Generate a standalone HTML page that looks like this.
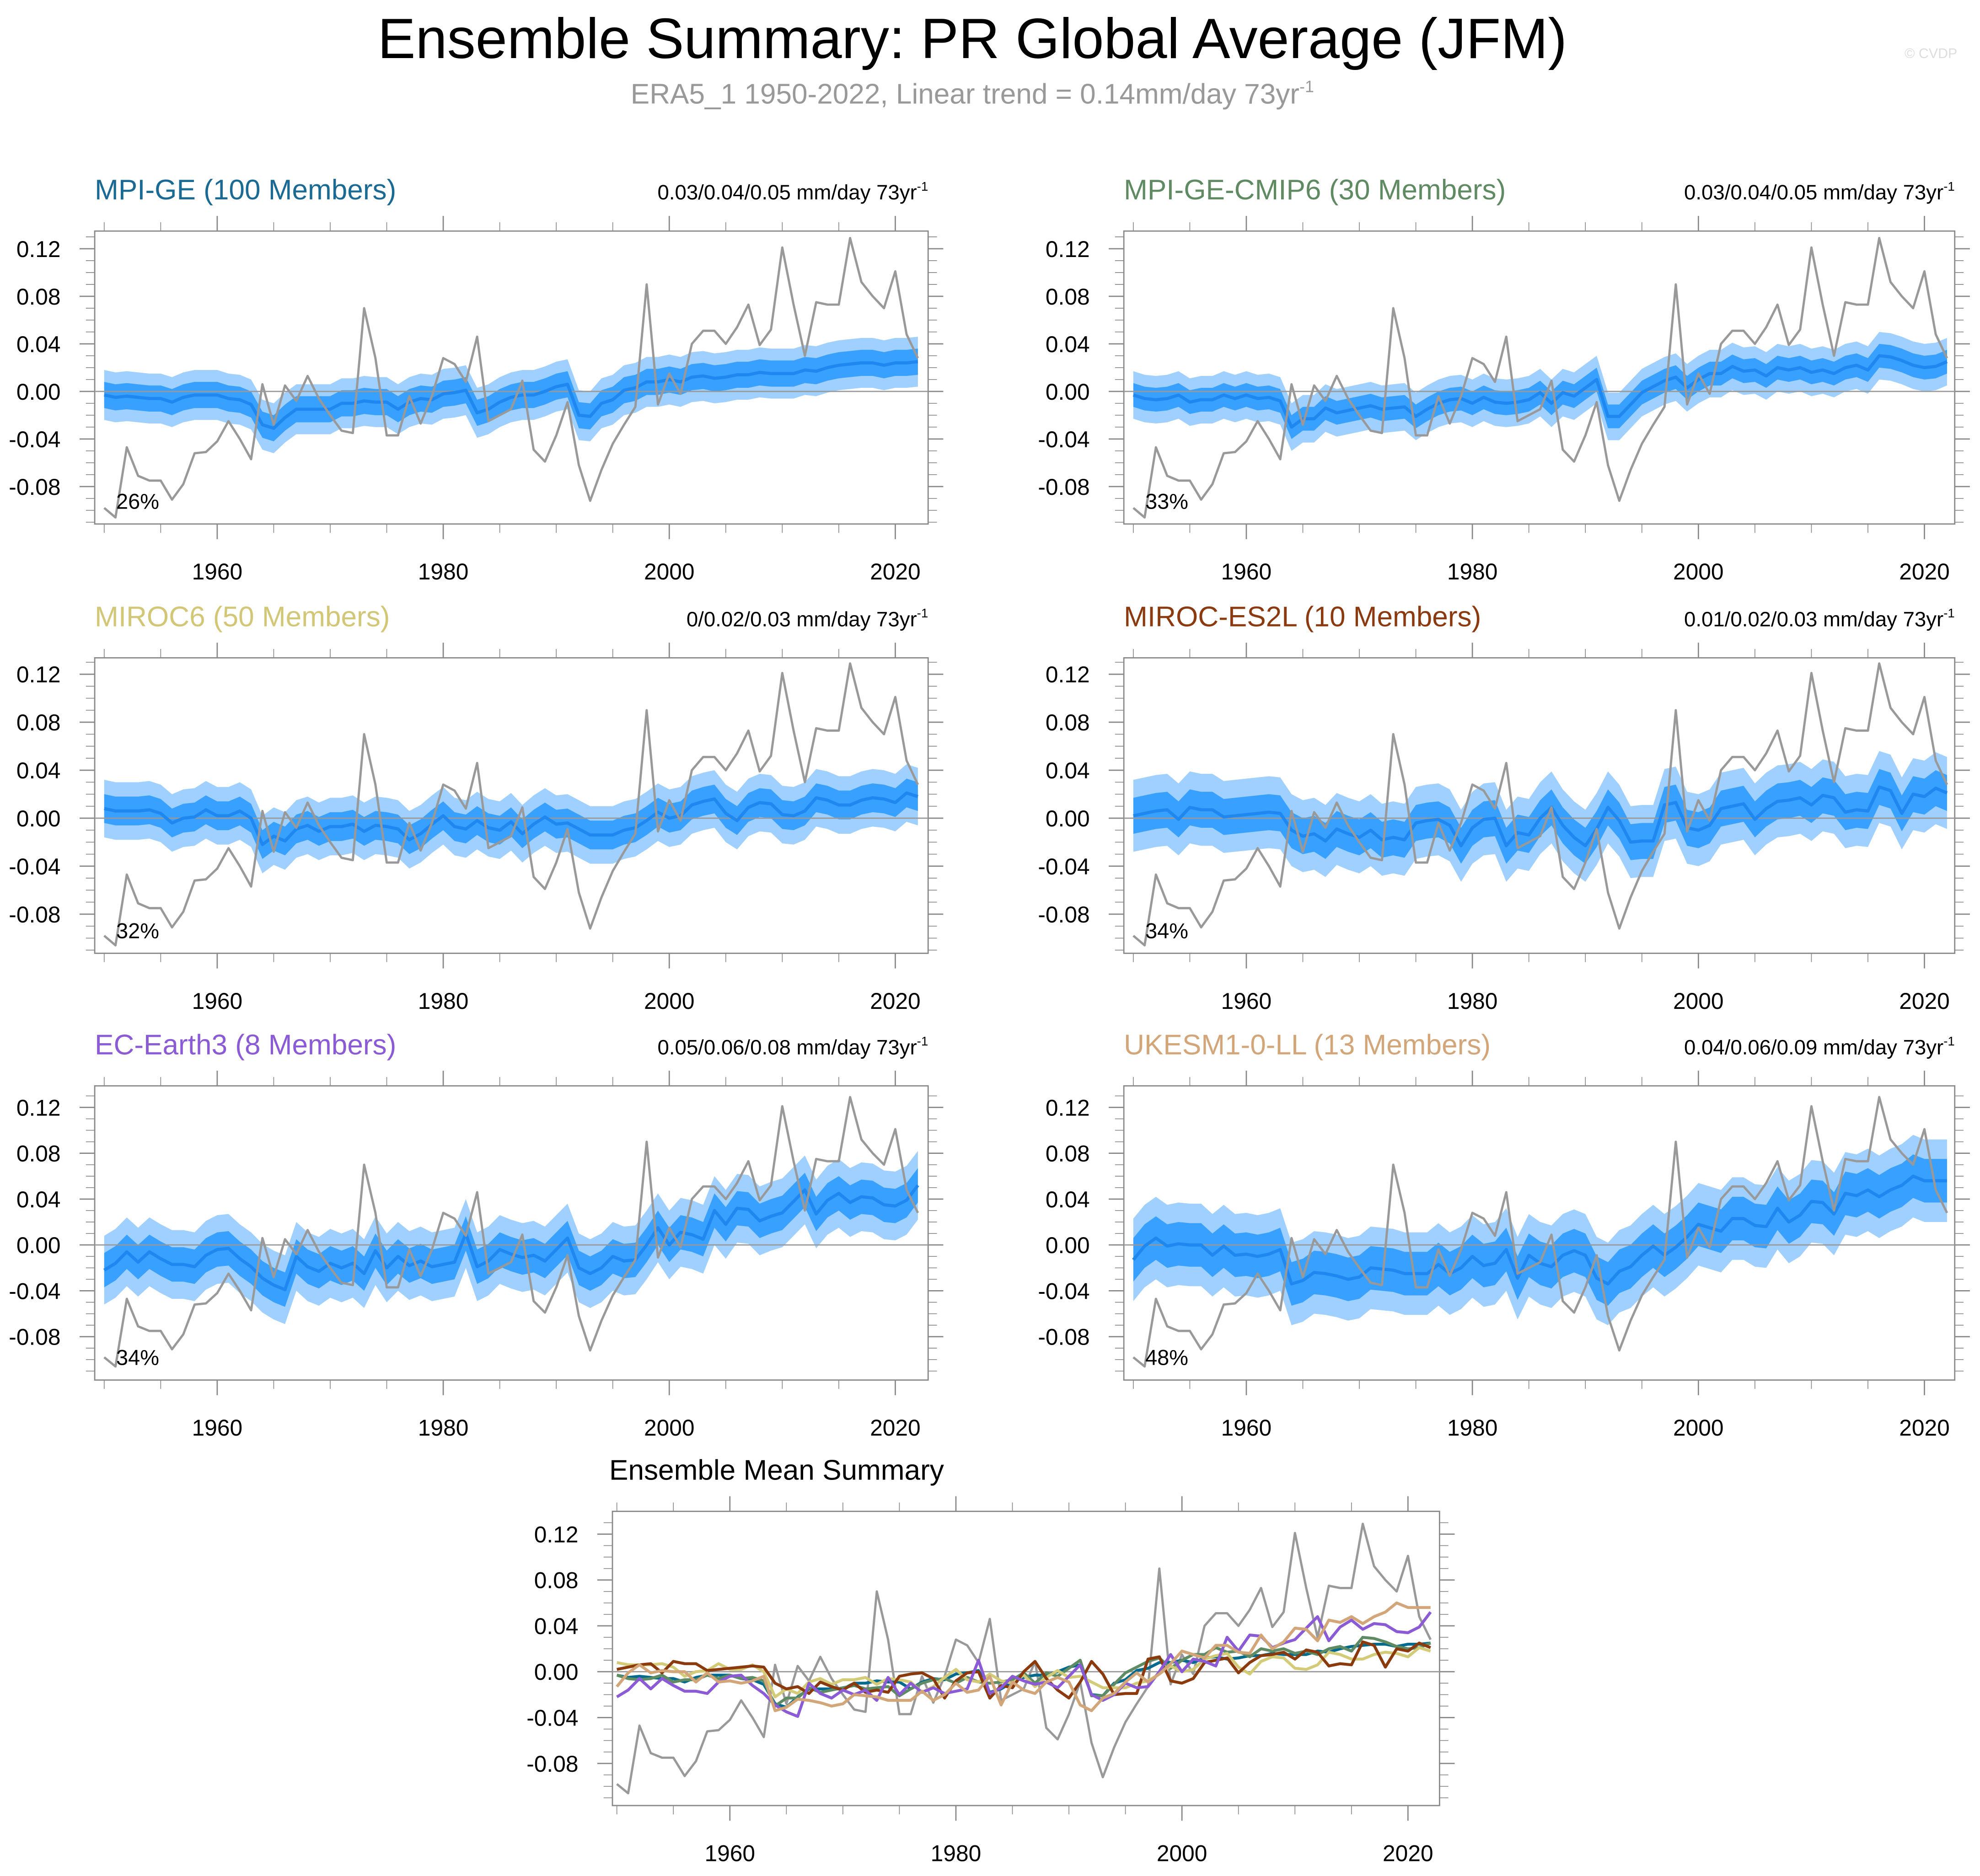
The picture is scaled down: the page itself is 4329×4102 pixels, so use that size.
<!DOCTYPE html>
<html><head><meta charset="utf-8"><title>Ensemble Summary: PR Global Average (JFM)</title>
<style>
html,body{margin:0;padding:0;background:#fff;}
svg{display:block;font-family:"Liberation Sans",Arial,sans-serif;}
</style></head>
<body>
<svg id="chart" xmlns="http://www.w3.org/2000/svg" width="4329" height="4102" viewBox="0 0 1568 1485.8">
<text x="770" y="46" font-size="45" text-anchor="middle" fill="#000">Ensemble Summary: PR Global Average (JFM)</text>
<text x="770" y="82" font-size="22.5" text-anchor="middle" fill="#999">ERA5_1 1950-2022, Linear trend = 0.14mm/day 73yr<tspan dy="-9" font-size="13">-1</tspan></text>
<text x="1550" y="46" font-size="11" text-anchor="end" fill="#ddd">© CVDP</text>
<text x="615" y="1172" font-size="22.5" text-anchor="middle" fill="#000">Ensemble Mean Summary</text>
</svg>
<script>
const years = [];
for (let y = 1950; y <= 2022; y++) years.push(y);
const era5 = [-0.098,-0.106,-0.047,-0.071,-0.075,-0.075,-0.091,-0.078,-0.052,-0.051,
-0.042,-0.025,-0.040,-0.057,0.006,-0.028,0.005,-0.008,0.013,-0.006,
-0.020,-0.033,-0.035,0.070,0.028,-0.037,-0.037,-0.004,-0.027,-0.004,
0.028,0.023,0.008,0.046,-0.025,-0.020,-0.015,0.009,-0.049,-0.059,
-0.037,-0.009,-0.062,-0.092,-0.066,-0.044,-0.028,-0.013,0.090,-0.011,
0.015,-0.002,0.040,0.051,0.051,0.040,0.054,0.073,0.039,0.052,
0.121,0.073,0.030,0.075,0.073,0.073,0.129,0.092,0.080,0.070,
0.101,0.048,0.028];
const mpiGE = [-0.003,-0.005,-0.004,-0.005,-0.006,-0.006,-0.009,-0.005,-0.003,-0.003,
-0.003,-0.006,-0.007,-0.011,-0.028,-0.031,-0.022,-0.015,-0.015,-0.015,
-0.015,-0.010,-0.010,-0.008,-0.009,-0.009,-0.015,-0.009,-0.006,-0.007,
-0.002,-0.001,0.001,-0.018,-0.015,-0.009,-0.005,-0.003,-0.003,0.000,
0.004,0.006,-0.020,-0.021,-0.010,-0.007,0.001,0.003,0.008,0.008,
0.010,0.008,0.012,0.013,0.011,0.012,0.014,0.014,0.016,0.015,
0.015,0.015,0.018,0.017,0.020,0.022,0.023,0.024,0.024,0.022,
0.024,0.024,0.025];
const mpiCMIP6 = [-0.003,-0.006,-0.007,-0.006,-0.003,-0.009,-0.007,-0.007,-0.003,-0.006,
-0.003,-0.006,-0.005,-0.008,-0.030,-0.023,-0.023,-0.014,-0.018,-0.016,
-0.014,-0.012,-0.015,-0.014,-0.013,-0.021,-0.015,-0.010,-0.007,-0.006,
-0.010,-0.005,-0.009,-0.010,-0.009,-0.007,-0.001,-0.010,-0.001,-0.004,
0.003,0.010,-0.021,-0.021,-0.011,-0.001,0.004,0.009,0.012,0.003,
0.010,0.015,0.015,0.021,0.017,0.018,0.013,0.020,0.018,0.020,
0.016,0.018,0.015,0.020,0.022,0.018,0.030,0.029,0.026,0.022,
0.020,0.021,0.025];
const miroc6 = [0.008,0.006,0.006,0.006,0.007,0.004,-0.004,0.000,0.001,0.007,
0.002,0.002,0.006,0.000,-0.022,-0.015,-0.019,-0.009,-0.006,-0.011,
-0.007,-0.007,-0.005,-0.011,-0.006,-0.007,-0.009,-0.018,-0.013,-0.005,
0.002,-0.007,-0.009,-0.002,-0.008,-0.010,-0.003,-0.013,-0.005,0.001,
-0.005,-0.004,-0.009,-0.014,-0.014,-0.014,-0.010,-0.008,-0.002,0.005,
0.000,0.002,0.011,0.014,0.016,0.004,-0.002,0.009,0.013,0.012,
0.003,0.002,0.006,0.017,0.015,0.011,0.011,0.015,0.017,0.016,
0.013,0.021,0.018];
const mirocES2L = [0.002,0.004,0.006,0.007,-0.001,0.009,0.007,0.007,0.001,0.002,
0.003,0.004,0.005,0.004,-0.010,-0.015,-0.013,-0.019,-0.009,-0.013,
-0.016,-0.010,-0.018,-0.016,-0.018,-0.004,-0.002,-0.001,-0.006,-0.023,
-0.008,-0.001,0.000,-0.023,-0.012,-0.014,0.000,0.009,-0.006,-0.016,
-0.023,-0.009,0.009,-0.002,-0.020,-0.019,-0.019,0.011,0.013,-0.008,
-0.010,-0.006,0.008,0.010,0.012,-0.001,0.008,0.014,0.015,0.017,
0.011,0.019,0.017,0.005,0.007,0.006,0.026,0.023,0.004,0.020,
0.018,0.025,0.021];
const ecEarth3 = [-0.022,-0.016,-0.006,-0.015,-0.006,-0.012,-0.017,-0.017,-0.019,-0.009,
-0.004,-0.003,-0.012,-0.019,-0.029,-0.035,-0.039,-0.010,-0.019,-0.023,
-0.016,-0.020,-0.016,-0.025,-0.005,-0.020,-0.010,-0.018,-0.014,-0.019,
-0.017,-0.015,0.010,-0.019,-0.014,-0.004,-0.008,-0.011,-0.009,-0.014,
-0.004,0.006,-0.020,-0.025,-0.020,-0.010,-0.014,-0.013,0.000,0.015,
0.000,0.011,0.009,0.005,0.030,0.018,0.032,0.031,0.021,0.025,
0.028,0.038,0.048,0.027,0.039,0.045,0.037,0.042,0.041,0.035,
0.034,0.039,0.052];
const ukesm = [-0.013,-0.001,0.006,-0.001,0.001,0.000,0.000,-0.009,-0.001,-0.009,
-0.008,-0.010,-0.008,-0.004,-0.034,-0.031,-0.024,-0.025,-0.027,-0.030,
-0.028,-0.020,-0.021,-0.022,-0.025,-0.025,-0.025,-0.017,-0.025,-0.020,
-0.010,-0.018,-0.016,-0.004,-0.029,-0.009,-0.016,-0.019,-0.009,-0.005,
-0.009,-0.029,-0.034,-0.023,-0.019,-0.009,-0.001,-0.009,-0.002,0.007,
0.018,0.015,0.012,0.023,0.023,0.017,0.016,0.032,0.020,0.026,
0.038,0.037,0.027,0.045,0.043,0.048,0.042,0.048,0.052,0.060,
0.056,0.056,0.056];
const innerSpread = [0.011,0.010,0.012,0.015,0.015,0.019];
const outerSpread = [0.021,0.020,0.024,0.030,0.030,0.036];
const modelNames = ["MPI-GE (100 Members)","MPI-GE-CMIP6 (30 Members)","MIROC6 (50 Members)","MIROC-ES2L (10 Members)","EC-Earth3 (8 Members)","UKESM1-0-LL (13 Members)"];
const trendLabels = ["0.03/0.04/0.05 mm/day 73yr","0.03/0.04/0.05 mm/day 73yr","0/0.02/0.03 mm/day 73yr","0.01/0.02/0.03 mm/day 73yr","0.05/0.06/0.08 mm/day 73yr","0.04/0.06/0.09 mm/day 73yr"];
const pctLabels = ["26%","33%","32%","34%","34%","48%"];
const yTicks = [-0.08,-0.04,0.00,0.04,0.08,0.12];
const yTickLabels = ["-0.08","-0.04","0.00","0.04","0.08","0.12"];
const xTicks = [1960,1980,2000,2020];
const modelMeans = [mpiGE, mpiCMIP6, miroc6, mirocES2L, ecEarth3, ukesm];
const titleColors = ["#1a6a93","#5f8a62","#d2c677","#8b3a10","#8a5bd4","#d2a679"];
const lineColors = ["#006a8e","#5e8a64","#d4cb78","#8b3a0e","#8a5bd4","#d2a679"];

const NS = "http://www.w3.org/2000/svg";
const svg = document.getElementById("chart");
function mk(tag, attrs, parent) {
  const e = document.createElementNS(NS, tag);
  for (const k in attrs) e.setAttribute(k, attrs[k]);
  (parent || svg).appendChild(e);
  return e;
}
function pathOf(vals, sx, sy) {
  return vals.map((v, i) => (i ? "L" : "M") + sx(years[i]).toFixed(2) + "," + sy(v).toFixed(2)).join("");
}
function bandOf(vals, w, sx, sy) {
  let d = vals.map((v, i) => (i ? "L" : "M") + sx(years[i]).toFixed(2) + "," + sy(v + w).toFixed(2)).join("");
  for (let i = vals.length - 1; i >= 0; i--) d += "L" + sx(years[i]).toFixed(2) + "," + sy(vals[i] - w).toFixed(2);
  return d + "Z";
}
function axes(g, bx, by, bw, bh, sx, sy) {
  const f = mk("rect", {x: bx, y: by, width: bw, height: bh, fill: "none", stroke: "#888", "stroke-width": 1}, g);
  
  
  for (let yr = 1950; yr <= 2025; yr += 5) {
    const x = sx(yr);
    if (x < bx || x > bx + bw) continue;
    const major = xTicks.indexOf(yr) >= 0;
    const len = major ? 12 : 7;
    const t1 = mk("line", {x1: x, x2: x, y1: by + bh, y2: by + bh + len, stroke: "#888", "stroke-width": major ? 1 : 0.6}, g);
    
    
    const t2 = mk("line", {x1: x, x2: x, y1: by, y2: by - len, stroke: "#888", "stroke-width": major ? 1 : 0.6}, g);
    
    
  }
  xTicks.forEach(yr => {
    const t = mk("text", {x: sx(yr), y: by + bh + 44, "font-size": 18, "text-anchor": "middle", fill: "#000"}, g);
    t.textContent = yr;
    
    
  });
  for (let k = -11; k <= 13; k++) {
    const v = k / 100;
    const y = sy(v);
    if (y < by || y > by + bh) continue;
    const major = k % 4 === 0;
    const len = major ? 12 : 7;
    const a = mk("line", {x1: bx, x2: bx - len, y1: y, y2: y, stroke: "#888", "stroke-width": major ? 1 : 0.6}, g);
    
    
    const b = mk("line", {x1: bx + bw, x2: bx + bw + len, y1: y, y2: y, stroke: "#888", "stroke-width": major ? 1 : 0.6}, g);
    
    
  }
  yTicks.forEach((v, i) => {
    const t = mk("text", {x: bx - 27, y: sy(v) + 6.5, "font-size": 18, "text-anchor": "end", fill: "#000"}, g);
    t.textContent = yTickLabels[i];
    
    
  });
  const z = mk("line", {x1: bx, x2: bx + bw, y1: sy(0), y2: sy(0), stroke: "#999", "stroke-width": 1}, g);
  
  
}

const panelBoxes = [
  {x: 75, y: 183, w: 660, h: 232, y0: 310, k: 941.7},
  {x: 890, y: 183, w: 658, h: 232, y0: 310, k: 941.7},
  {x: 75, y: 521, w: 660, h: 234, y0: 648, k: 950},
  {x: 890, y: 521, w: 658, h: 234, y0: 648, k: 950},
  {x: 75, y: 860, w: 660, h: 233, y0: 986, k: 908},
  {x: 890, y: 860, w: 658, h: 233, y0: 986, k: 908}
];

panelBoxes.forEach((p, m) => {
  const g = mk("g", {});
  
  
  const sx = yr => p.x + 7.5 + (yr - 1950) * 8.95;
  const sy = v => p.y0 - v * p.k;
  const vals = modelMeans[m];
  const ob = mk("path", {d: bandOf(vals, outerSpread[m], sx, sy), fill: "#a0d0ff"}, g);
  
  
  const ib = mk("path", {d: bandOf(vals, innerSpread[m], sx, sy), fill: "#38a0ff"}, g);
  
  
  axes(g, p.x, p.y, p.w, p.h, sx, sy);
  const ml = mk("path", {d: pathOf(vals, sx, sy), fill: "none", stroke: "#1e88f0", "stroke-width": 2.5, "stroke-linejoin": "round"}, g);
  
  
  const ol = mk("path", {d: pathOf(era5, sx, sy), fill: "none", stroke: "#999", "stroke-width": 1.8, "stroke-linejoin": "round"}, g);
  
  
  const tt = mk("text", {x: p.x, y: p.y - 25, "font-size": 22.5, fill: titleColors[m]}, g);
  tt.textContent = modelNames[m];
  
  
  const tr = mk("text", {x: p.x + p.w, y: p.y - 25, "font-size": 16.5, "text-anchor": "end", fill: "#000"}, g);
  tr.textContent = trendLabels[m];
  const sup = mk("tspan", {dy: -7, "font-size": 10}, tr);
  sup.textContent = "-1";
  
  
  const pc = mk("text", {x: p.x + 17, y: p.y + p.h - 12, "font-size": 17, fill: "#000"}, g);
  pc.textContent = pctLabels[m];
  
  
});

(function () {
  const p = {x: 485, y: 1197, w: 655, h: 233, y0: 1324, k: 908};
  const g = mk("g", {});
  
  
  const sx = yr => p.x + 3.5 + (yr - 1950) * 8.95;
  const sy = v => p.y0 - v * p.k;
  axes(g, p.x, p.y, p.w, p.h, sx, sy);
  const ol = mk("path", {d: pathOf(era5, sx, sy), fill: "none", stroke: "#999", "stroke-width": 1.8, "stroke-linejoin": "round"}, g);
  
  
  modelMeans.forEach((vals, m) => {
    const l = mk("path", {d: pathOf(vals, sx, sy), fill: "none", stroke: lineColors[m], "stroke-width": 2.3, "stroke-linejoin": "round"}, g);
    
    
  });
})();
</script>
</body></html>
